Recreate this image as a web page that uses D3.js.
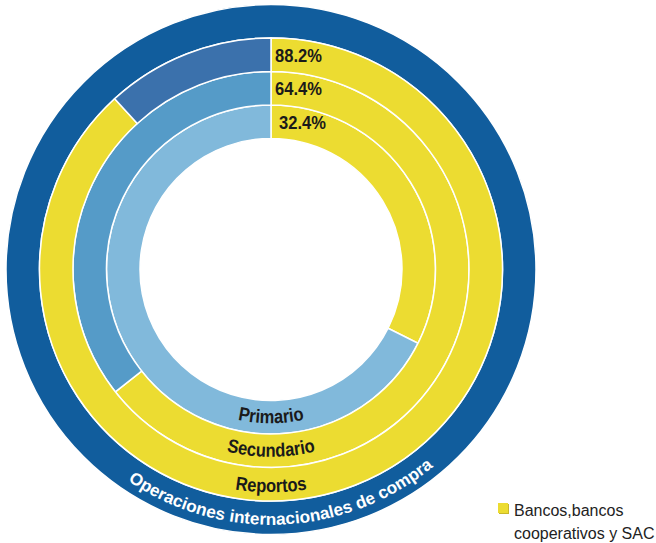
<!DOCTYPE html>
<html>
<head>
<meta charset="utf-8">
<script src="https://cdn.jsdelivr.net/npm/d3@7"></script>
<style>
  html, body { margin: 0; padding: 0; background: #fff; }
  svg { display: block; }
</style>
</head>
<body>
<svg id="chart" width="656" height="543"></svg>
<script>
// Market segments, inner to outer ring
const rings = ["Primario", "Secundario", "Reportos"];
// Share held by banks, cooperative banks and SAC (%)
const bankShare = [32.4, 64.4, 88.2];
// Remainder colour of each ring
const restColors = ["#81b9db", "#559bc8", "#3b71ac"];
const outerLabel = "Operaciones internacionales de compra";
const legendLines = ["Bancos,bancos", "cooperativos y SAC"];

const yellow = "#ecdc31";
const outerBlue = "#115d9d";
const sans = "'Liberation Sans', Arial, sans-serif";
// Horizontal squeeze that gives the narrow-face look
const condense = 0.87;

const svg = d3.select("#chart");
const cx = 271, cy = 269.5;
const g = svg.append("g").attr("transform", `translate(${cx},${cy})`);

// Radial bands: the three market rings plus the outer frame ring
const band = d3.scaleBand()
  .domain([...rings, "frame"])
  .range([131, 265])
  .paddingInner(0);

const arc = d3.arc();
const pie = d3.pie().sort(null).value(d => d.v);

function squeeze(sel) {
  sel.each(function () {
    const w = this.getComputedTextLength();
    d3.select(this).attr("textLength", w * condense).attr("lengthAdjust", "spacingAndGlyphs");
  });
}

// Outer frame ring
g.append("path")
  .attr("d", arc({ innerRadius: band("frame"), outerRadius: band("frame") + band.bandwidth(),
                   startAngle: 0, endAngle: 2 * Math.PI }))
  .attr("fill", outerBlue)
  .attr("stroke", "#fff").attr("stroke-width", 1.5);

// Market rings
rings.forEach((name, i) => {
  const r0 = band(name), r1 = r0 + band.bandwidth();
  const slices = pie([
    { v: bankShare[i], c: yellow },
    { v: 100 - bankShare[i], c: restColors[i] }
  ]);
  g.selectAll(null).data(slices).enter().append("path")
    .attr("d", d => arc({ innerRadius: r0, outerRadius: r1, startAngle: d.startAngle, endAngle: d.endAngle }))
    .attr("fill", d => d.data.c)
    .attr("stroke", "#fff").attr("stroke-width", 1.5);

  // Percentage label just right of the seam at 12 o'clock
  const mid = (r0 + r1) / 2;
  g.append("text")
    .attr("x", i === 0 ? 8 : 4)
    .attr("y", -mid)
    .attr("dy", "0.36em")
    .attr("font-family", sans)
    .attr("font-weight", "bold")
    .attr("font-size", 19)
    .attr("fill", "#1a1a1a")
    .text(d3.format(".1f")(bankShare[i]) + "%")
    .call(squeeze);

  // Ring name curved along the bottom of the ring
  const rb = mid + 6 + (i === 2 ? 2 : 0);
  const pid = "ringpath" + i;
  g.append("path")
    .attr("id", pid)
    .attr("d", `M${-rb},0 A${rb},${rb} 0 0 0 ${rb},0`)
    .attr("fill", "none");
  g.append("text")
    .attr("font-family", sans)
    .attr("font-weight", "bold")
    .attr("font-size", 19)
    .attr("fill", "#1a1a1a")
    .append("textPath")
    .attr("href", "#" + pid)
    .attr("startOffset", "50%")
    .attr("text-anchor", "middle")
    .text(name)
    .call(squeeze);
});

// Frame label along the bottom of the outer ring
{
  const rf = band("frame") + band.bandwidth() / 2 + 7;
  g.append("path")
    .attr("id", "framepath")
    .attr("d", `M${-rf},0 A${rf},${rf} 0 0 0 ${rf},0`)
    .attr("fill", "none");
  g.append("text")
    .attr("font-family", sans)
    .attr("font-weight", "bold")
    .attr("font-size", 17)
    .attr("fill", "#fff")
    .append("textPath")
    .attr("href", "#framepath")
    .attr("startOffset", "51.5%")
    .attr("text-anchor", "middle")
    .attr("textLength", 328)
    .attr("lengthAdjust", "spacingAndGlyphs")
    .text(outerLabel);
}

// Legend
const leg = svg.append("g").attr("transform", "translate(498,503)");
leg.append("rect").attr("x", 1).attr("y", 1).attr("width", 10).attr("height", 10).attr("fill", "#c9b82a");
leg.append("rect").attr("width", 10).attr("height", 10).attr("fill", yellow);
leg.selectAll("text.l").data(legendLines).enter().append("text")
  .attr("class", "l")
  .attr("x", 16)
  .attr("y", (d, i) => 13 + i * 23)
  .attr("font-family", sans)
  .attr("font-size", 16)
  .attr("fill", "#222")
  .text(d => d);
</script>
</body>
</html>
